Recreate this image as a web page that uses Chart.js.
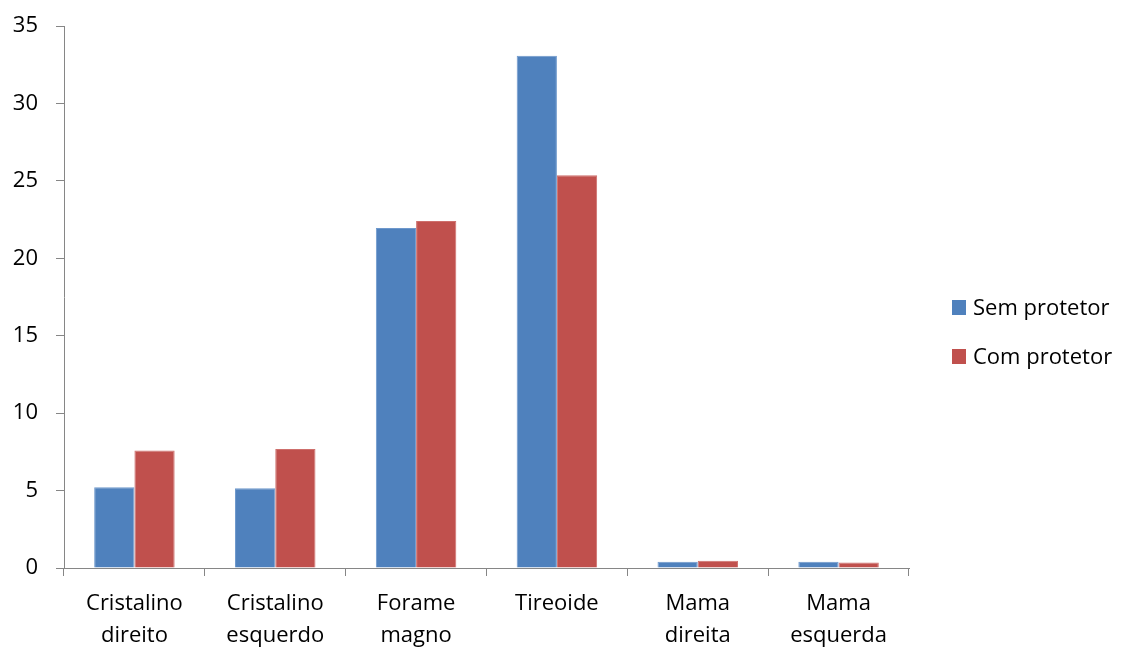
<!DOCTYPE html>
<html>
<head>
<meta charset="utf-8">
<script src="https://cdn.jsdelivr.net/npm/chart.js@4/dist/chart.umd.min.js"></script>
<style>
    html, body { margin: 0; padding: 0; background: #ffffff; }
    #wrap { width: 1124px; height: 648px; }
</style>
</head>
<body>
<div id="wrap"><canvas id="chart"></canvas></div>
<script>
// Categories (two-line labels) and the two series
const categories = [
    ["Cristalino", "direito"],
    ["Cristalino", "esquerdo"],
    ["Forame", "magno"],
    ["Tireoide"],
    ["Mama", "direita"],
    ["Mama", "esquerda"]
];
const semProtetor = [5.21, 5.15, 21.96, 33.08, 0.40, 0.40];
const comProtetor = [7.58, 7.68, 22.41, 25.36, 0.47, 0.35];
const seriesNames = ["Sem protetor", "Com protetor"];
const yTicks = [0, 5, 10, 15, 20, 25, 30, 35];

const axisColor = "#868686";
const fontFamily = "'Open Sans', Lato, sans-serif";
const fontSize = 22;

// Legend drawn to the right of the plot, vertically centred on the canvas
const sideLegend = {
    id: "sideLegend",
    afterDraw(chart) {
        const { ctx, chartArea } = chart;
        const x = chartArea.right + 43;
        const midY = chart.height / 2 + 8;
        ctx.save();
        ctx.font = `${fontSize}px ${fontFamily}`;
        ctx.textBaseline = "middle";
        chart.data.datasets.forEach((ds, i) => {
            const y = midY + (i - 0.5) * 49;
            ctx.fillStyle = ds.backgroundColor;
            ctx.fillRect(x, y - 7.5, 14, 15);
            ctx.fillStyle = "#000000";
            ctx.fillText(ds.label, x + 21, y + 1);
        });
        ctx.restore();
    },
};

const ctx = document.getElementById("chart").getContext("2d");
new Chart(ctx, {
    type: "bar",
    data: {
        labels: categories,
        datasets: [
            {
                label: seriesNames[0],
                data: semProtetor,
                backgroundColor: "#4F81BD",
                borderColor: "#6E98CC",
                borderWidth: 1,
            },
            {
                label: seriesNames[1],
                data: comProtetor,
                backgroundColor: "#C0504D",
                borderColor: "#CE6F6C",
                borderWidth: 1,
            },
        ],
    },
    plugins: [sideLegend],
    options: {
        responsive: true,
        maintainAspectRatio: false,
        animation: false,
        datasets: {
            bar: {
                categoryPercentage: 2 / 3.5,
                barPercentage: 1,
            },
        },
        layout: {
            padding: { left: 0, top: 0, right: 215, bottom: 0 },
        },
        plugins: {
            tooltip: { enabled: false },
            legend: { display: false },
        },
        scales: {
            x: {
                afterFit: (axis) => {
                    axis.height = 80;
                },
                border: { color: axisColor, width: 1 },
                grid: {
                    drawOnChartArea: false,
                    drawTicks: true,
                    tickLength: 8,
                    color: axisColor,
                },
                ticks: {
                    color: "#000000",
                    padding: 12,
                    maxRotation: 0,
                    font: { family: fontFamily, size: fontSize, lineHeight: 32 / fontSize },
                },
            },
            y: {
                min: 0,
                max: 35,
                afterBuildTicks: (axis) => {
                    axis.ticks = yTicks.map((v) => ({ value: v }));
                },
                afterFit: (axis) => {
                    axis.width = 64;
                    axis.paddingTop = 26;
                },
                border: { color: axisColor, width: 1 },
                grid: {
                    drawOnChartArea: false,
                    drawTicks: true,
                    tickLength: 8,
                    color: axisColor,
                },
                ticks: {
                    color: "#000000",
                    padding: 18,
                    font: { family: fontFamily, size: fontSize },
                },
            },
        },
    },
});
</script>
</body>
</html>
